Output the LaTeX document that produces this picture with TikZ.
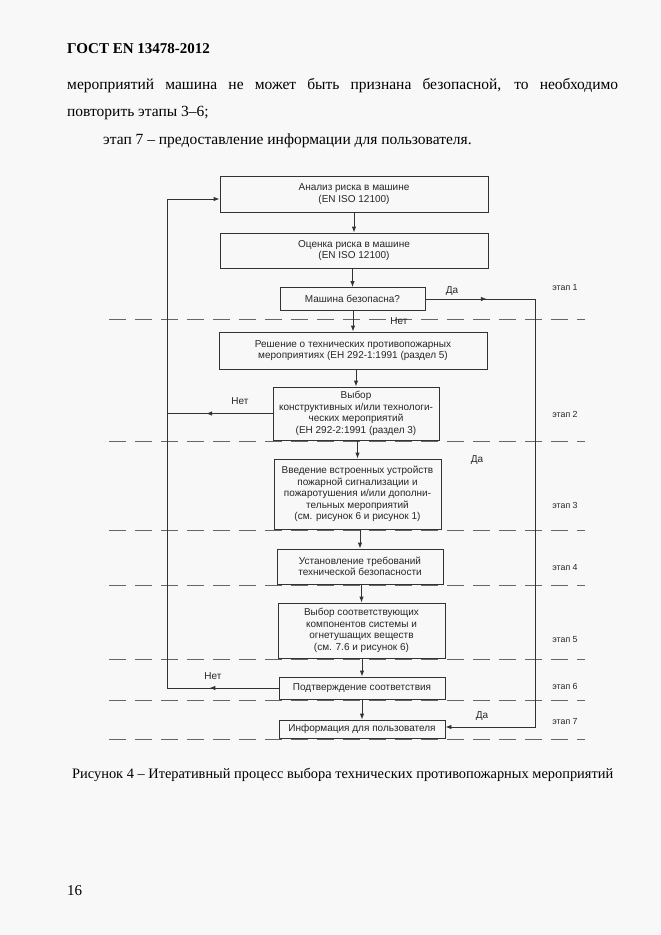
\documentclass[tikz,border=0pt]{standalone}
\usepackage{fontspec}
\setmainfont{Liberation Serif}
\newfontfamily\schemefont{Liberation Sans}
\usetikzlibrary{arrows.meta, positioning, calc, decorations.markings}
\definecolor{pagebg}{HTML}{F8F8F8}
\definecolor{lineclr}{HTML}{333333}
\definecolor{sepclr}{HTML}{666666}

\begin{document}
\begin{tikzpicture}[
    x=1pt, y=-1pt,
    every node/.style={font=\schemefont\fontsize{10}{11.6}\selectfont, inner sep=0pt, text=black!85},
    stepbox/.style={draw=lineclr, line width=0.9pt, align=center},
    pagetext/.style={font=\rmfamily\fontsize{15.5}{18}\selectfont, anchor=base west, text=black},
    arr/.style={draw=lineclr, line width=0.9pt, -{Latex[length=6pt, width=4.5pt]}},
    flowline/.style={draw=lineclr, line width=0.9pt},
    midarrow/.style={postaction={decorate}, decoration={markings, mark=at position #1 with {\arrow{Latex[length=6pt, width=4.5pt]}}}},
    sepline/.style={draw=sepclr, line width=0.9pt, dash pattern=on 17pt off 9pt},
    stagelabel/.style={font=\schemefont\fontsize{8.8}{10}\selectfont}
]
    \fill[pagebg] (0,0) rectangle (661,935);
    \useasboundingbox (0,0) rectangle (661,935);

    % page text
    \node[pagetext, font=\rmfamily\bfseries\fontsize{15}{18}\selectfont] (head) at (67,53) {ГОСТ EN 13478-2012};
    \node[pagetext] (par1) at (67,89) {\makebox[551pt][s]{мероприятий машина не может быть признана безопасной, то необходимо}};
    \node[pagetext] (par2) at (67,116) {повторить этапы 3–6;};
    \node[pagetext] (par3) at (103,144) {этап 7 – предоставление информации для пользователя.};

    % stage separators
    \foreach \y in {319,441,530,585,659,700,739}
        \draw[sepline] (109,\y) -- (585,\y);

    % boxes
    \node[stepbox, minimum width=268pt, minimum height=36pt] (analysis) at (354,194) {Анализ риска в машине\\(EN ISO 12100)};
    \node[stepbox, minimum width=268pt, minimum height=35pt] (estimate) at (354,250.5) {Оценка риска в машине\\(EN ISO 12100)};
    \node[stepbox, minimum width=145pt, minimum height=23pt] (safe) at (352.5,299) {Машина безопасна?};
    \node[stepbox, minimum width=268pt, minimum height=37pt] (decision) at (353,350.5) {Решение о технических противопожарных\\мероприятиях (ЕН 292-1:1991 (раздел 5)};
    \node[stepbox, minimum width=166pt, minimum height=53pt] (design) at (356,413.5) {Выбор\\конструктивных и/или технологи-\\ческих мероприятий\\(ЕН 292-2:1991 (раздел 3)};
    \node[stepbox, minimum width=167pt, minimum height=70pt] (devices) at (357.5,494) {Введение встроенных устройств\\пожарной сигнализации и\\пожаротушения и/или дополни-\\тельных мероприятий\\(см. рисунок 6 и рисунок 1)};
    \node[stepbox, minimum width=166pt, minimum height=35pt] (require) at (360,566.5) {Установление требований\\технической безопасности};
    \node[stepbox, minimum width=167pt, minimum height=55pt] (components) at (361.5,630.5) {Выбор соответствующих\\компонентов системы и\\огнетушащих веществ\\(см. 7.6 и рисунок 6)};
    \node[stepbox, minimum width=166pt, minimum height=22pt] (confirm) at (362,688) {Подтверждение соответствия};
    \node[stepbox, minimum width=166pt, minimum height=18pt] (info) at (362,729) {Информация для пользователя};

    % main flow
    \draw[arr] (analysis.south -| estimate.north) -- (estimate.north);
    \draw[arr] (estimate.south -| safe.north) -- (safe.north);
    \draw[arr] (safe.south -| decision.north) -- (decision.north);
    \draw[arr] (decision.south -| design.north) -- (design.north);
    \draw[arr] (design.south -| devices.north) -- (devices.north);
    \draw[arr] (devices.south -| require.north) -- (require.north);
    \draw[arr] (require.south -| components.north) -- (components.north);
    \draw[arr] (components.south -| confirm.north) -- (confirm.north);
    \draw[arr] (confirm.south -| info.north) -- (info.north);

    % feedback loops
    \coordinate (backin) at (167,199);
    \coordinate (yesout) at (535,727);
    \draw[flowline, midarrow=0.63] (design.west) -- (design.west -| backin);
    \draw[flowline, midarrow=0.62] (confirm.west) -- (confirm.west -| backin);
    \draw[arr] (confirm.west -| backin) -- (backin) -- (backin -| analysis.west);
    \draw[flowline, midarrow=0.56] (safe.east) -- (safe.east -| yesout);
    \draw[arr] (safe.east -| yesout) -- (yesout) -- (yesout -| info.east);

    % branch labels
    \node (yes1) at (452,291) {Да};
    \node (no1) at (399,321) {Нет};
    \node (no2) at (240,401) {Нет};
    \node (yes2) at (477,460) {Да};
    \node (no3) at (213,676) {Нет};
    \node (yes3) at (482,716) {Да};

    % stage labels
    \foreach \n/\y in {1/288,2/414,3/505,4/568,5/640,6/686,7/722}
        \node[stagelabel] (stage\n) at (565,\y) {этап \n};

    % caption and page number
    \node[pagetext, font=\rmfamily\fontsize{14.4}{17}\selectfont] (caption) at (72,778) {Рисунок 4 – Итеративный процесс выбора технических противопожарных мероприятий};
    \node[pagetext, font=\rmfamily\fontsize{15}{18}\selectfont] (pagenum) at (67,895) {16};
\end{tikzpicture}
\end{document}
